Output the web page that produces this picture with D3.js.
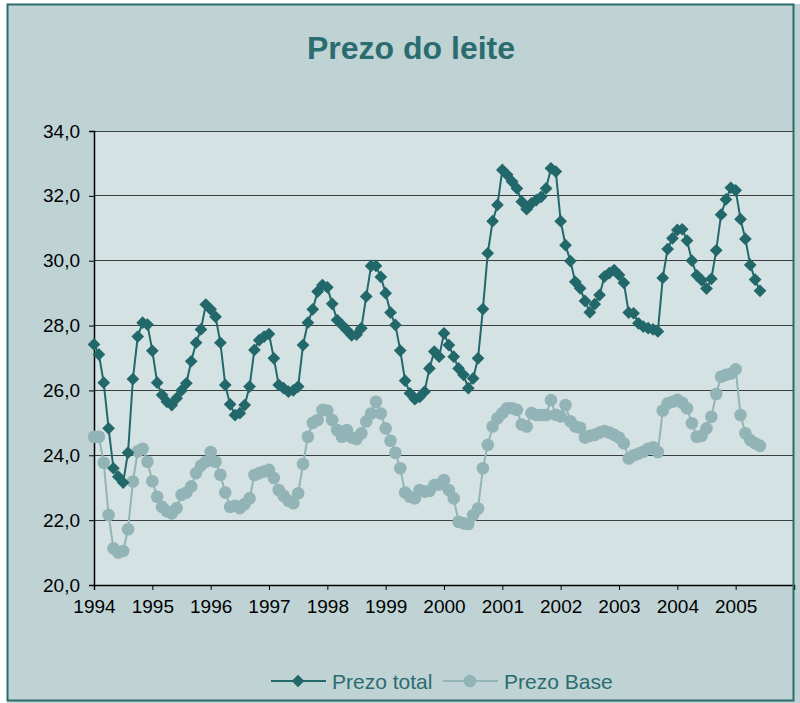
<!DOCTYPE html>
<html><head><meta charset="utf-8">
<script src="https://cdn.jsdelivr.net/npm/d3@7/dist/d3.min.js"></script>
<style>html,body{margin:0;padding:0;background:#fff;}svg{display:block;}</style>
</head><body>
<script>
const title = "Prezo do leite";
const yearLabels = ["1994","1995","1996","1997","1998","1999","2000","2001","2002","2003","2004","2005"];
const yTicks = [20,22,24,26,28,30,32,34];
const seriesNames = ["Prezo total","Prezo Base"];
// monthly values, Jan 1994 - Jun 2005
const prezoTotal = [
 27.42,27.11,26.24,24.83,23.60,23.34,23.16,24.08,26.35,27.66,28.09,28.03,
 27.22,26.24,25.86,25.65,25.55,25.76,26.00,26.22,26.90,27.47,27.88,28.65,
 28.50,28.27,27.47,26.17,25.57,25.24,25.30,25.55,26.12,27.25,27.55,27.66,
 27.74,26.99,26.17,26.07,25.96,26.00,26.12,27.40,28.09,28.50,29.05,29.25,
 29.18,28.67,28.17,28.02,27.86,27.70,27.72,27.92,28.90,29.84,29.84,29.50,
 29.00,28.40,28.02,27.23,26.30,25.91,25.73,25.80,25.96,26.68,27.20,27.04,
 27.76,27.40,27.04,26.68,26.48,26.07,26.37,26.99,28.51,30.23,31.22,31.72,
 32.80,32.65,32.44,32.23,31.82,31.59,31.77,31.87,31.97,32.23,32.85,32.75,
 31.22,30.48,29.99,29.35,29.15,28.76,28.41,28.66,28.94,29.51,29.62,29.71,
 29.56,29.32,28.40,28.38,28.07,27.97,27.92,27.88,27.82,29.47,30.36,30.69,
 30.95,30.97,30.62,30.00,29.55,29.40,29.14,29.44,30.32,31.42,31.89,32.25,
 32.17,31.28,30.67,29.87,29.42,29.07
];
const prezoBase = [
 24.57,24.57,23.77,22.16,21.13,21.00,21.05,21.72,23.19,24.12,24.20,23.80,
 23.20,22.72,22.41,22.27,22.21,22.37,22.78,22.85,23.04,23.45,23.68,23.80,
 24.10,23.80,23.40,22.85,22.41,22.44,22.37,22.50,22.67,23.39,23.45,23.50,
 23.55,23.30,22.93,22.75,22.60,22.52,22.83,23.73,24.57,25.00,25.09,25.40,
 25.38,25.09,24.78,24.57,24.78,24.55,24.50,24.68,25.04,25.29,25.65,25.29,
 24.83,24.45,24.08,23.60,22.85,22.72,22.67,22.93,22.88,22.90,23.08,23.10,
 23.24,22.93,22.67,21.95,21.90,21.88,22.16,22.36,23.60,24.32,24.89,25.14,
 25.30,25.45,25.45,25.40,24.95,24.89,25.30,25.24,25.24,25.24,25.70,25.25,
 25.20,25.55,25.05,24.89,24.85,24.55,24.60,24.63,24.70,24.75,24.70,24.63,
 24.55,24.37,23.90,24.00,24.05,24.11,24.20,24.25,24.10,25.38,25.60,25.65,
 25.71,25.62,25.45,24.99,24.57,24.60,24.83,25.19,25.89,26.42,26.48,26.52,
 26.65,25.24,24.68,24.47,24.37,24.29
];

const W = 800, H = 703;
const C = {outer:"#bfd3d5", plot:"#d5e2e3", border:"#2b6c6f", grid:"#3a3f40",
           total:"#22686b", base:"#93b4b6", title:"#2b6c6f", legend:"#2b6c6f"};
const plot = {l:94, r:794, t:131, b:585};
const FONT = "Liberation Sans, Arial, sans-serif";

const svg = d3.select("body").append("svg").attr("width",W).attr("height",H);
svg.append("rect").attr("x",0).attr("y",0).attr("width",W).attr("height",H).attr("fill","#ffffff");
svg.append("rect").attr("x",7).attr("y",4).attr("width",W-7).attr("height",H-4).attr("fill",C.outer);
svg.append("rect").attr("x",plot.l).attr("y",plot.t).attr("width",plot.r-plot.l).attr("height",plot.b-plot.t).attr("fill",C.plot);

const x = d3.scaleLinear().domain([0,144]).range([plot.l, plot.r]);
const y = d3.scaleLinear().domain([20,34]).range([plot.b, plot.t]);

// grid
svg.append("g").selectAll("line").data(yTicks.filter(v=>v>20)).join("line")
  .attr("x1",plot.l).attr("x2",plot.r).attr("y1",d=>y(d)).attr("y2",d=>y(d))
  .attr("stroke",C.grid).attr("stroke-width",1).attr("shape-rendering","crispEdges");

// y axis
const fmt = v => d3.format(".1f")(v).replace(".",",");
const yAxis = svg.append("g").attr("transform",`translate(${plot.l},0)`)
  .call(d3.axisLeft(y).tickValues(yTicks).tickFormat(fmt).tickSize(5).tickPadding(9));
yAxis.select(".domain").attr("stroke","#000").attr("stroke-width",1.5);
yAxis.selectAll(".tick line").attr("stroke","#000");
yAxis.selectAll("text").attr("font-family",FONT).attr("font-size",19).attr("fill","#000");

// x axis
const xTickVals = yearLabels.map((d,i)=>i*12);
const xAxis = svg.append("g").attr("transform",`translate(0,${plot.b})`)
  .call(d3.axisBottom(x).tickValues(xTickVals).tickFormat((d,i)=>yearLabels[i]).tickSize(5).tickPadding(10));
xAxis.select(".domain").attr("stroke","#000").attr("stroke-width",1.5);
xAxis.selectAll(".tick line").attr("stroke","#000");
xAxis.selectAll("text").attr("font-family",FONT).attr("font-size",19).attr("fill","#000");

// border
svg.append("rect").attr("x",7.5).attr("y",4.5).attr("width",786).attr("height",696)
  .attr("fill","none").attr("stroke",C.border).attr("stroke-width",2);

const line = d3.line().x((d,i)=>x(i)).y(d=>y(d));
// base series
svg.append("path").datum(prezoBase).attr("d",line).attr("fill","none").attr("stroke",C.base).attr("stroke-width",2);
svg.append("g").selectAll("circle").data(prezoBase).join("circle")
  .attr("cx",(d,i)=>x(i)).attr("cy",d=>y(d)).attr("r",6.3).attr("fill",C.base);
// total series
svg.append("path").datum(prezoTotal).attr("d",line).attr("fill","none").attr("stroke",C.total).attr("stroke-width",2);
const sq = d3.symbol().type(d3.symbolSquare).size(81)();
svg.append("g").selectAll("path").data(prezoTotal).join("path")
  .attr("d",sq)
  .attr("transform",(d,i)=>`translate(${x(i)},${y(d)}) rotate(45)`)
  .attr("fill",C.total);

// title
svg.append("text").attr("x",411).attr("y",59).attr("text-anchor","middle")
  .attr("font-family",FONT).attr("font-weight","bold")
  .attr("font-size",32).attr("fill",C.title).text(title);

// legend
const lg = svg.append("g");
const legendItems = [
  {name:seriesNames[0], x0:271, color:C.total, sym:"d"},
  {name:seriesNames[1], x0:443, color:C.base, sym:"c"}
];
const ly = 681;
legendItems.forEach(it=>{
  lg.append("line").attr("x1",it.x0).attr("x2",it.x0+55).attr("y1",ly).attr("y2",ly).attr("stroke",it.color).attr("stroke-width",2);
  if(it.sym==="d"){
    lg.append("path").attr("d",sq).attr("transform",`translate(${it.x0+27},${ly}) rotate(45)`).attr("fill",it.color);
  } else {
    lg.append("circle").attr("cx",it.x0+27).attr("cy",ly).attr("r",6.3).attr("fill",it.color);
  }
  lg.append("text").attr("x",it.x0+61).attr("y",ly+7.5).attr("font-family",FONT)
    .attr("font-size",21).attr("fill",C.legend).text(it.name);
});
</script>
</body></html>
